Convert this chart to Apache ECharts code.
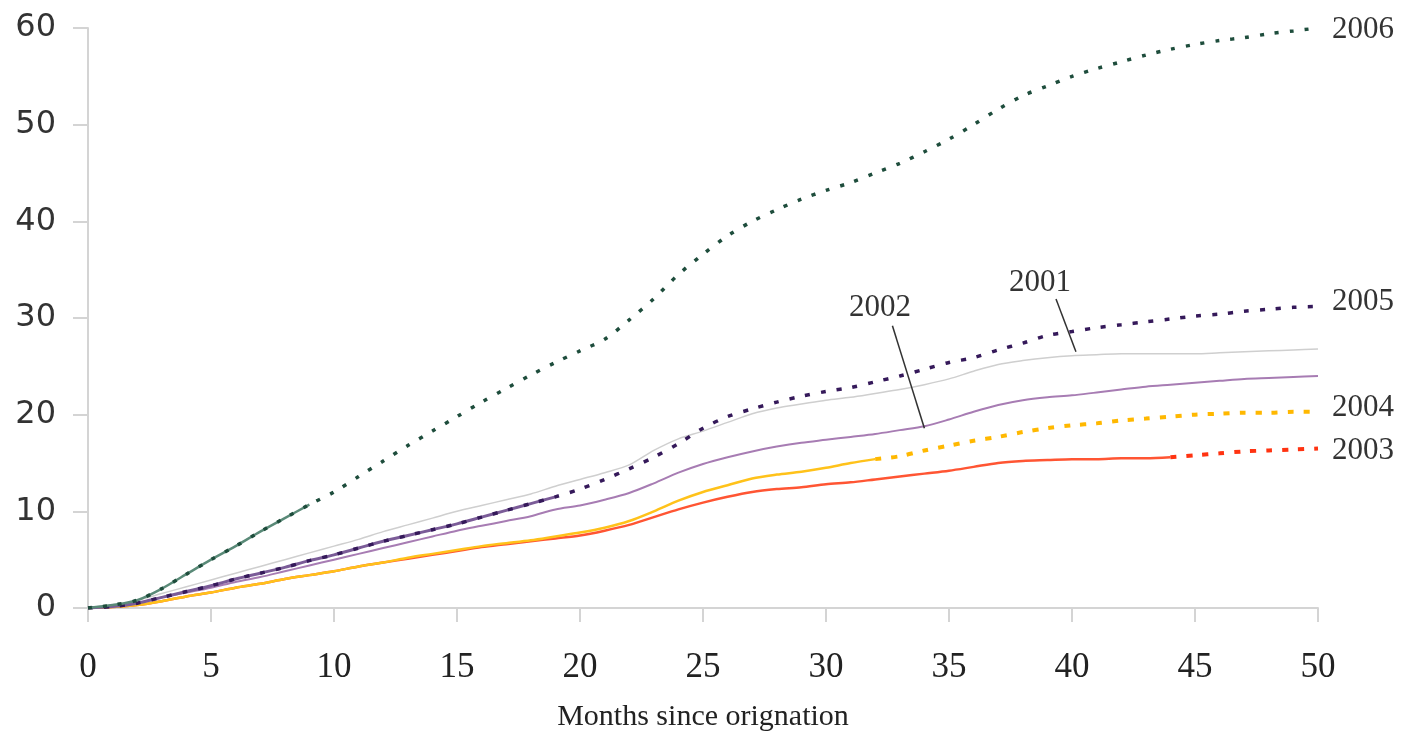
<!DOCTYPE html>
<html>
<head>
<meta charset="utf-8">
<script src="https://cdn.jsdelivr.net/npm/echarts@6/dist/echarts.min.js"></script>
<style>html,body{margin:0;padding:0;background:#fff}#c{width:1408px;height:746px}</style>
</head>
<body>
<div id="c"></div>
<script>
// Months since origination
const months = [0,1,2,3,4,5,6,7,8,9,10,11,12,13,14,15,16,17,18,19,20,21,22,23,24,25,26,27,28,29,30,31,32,33,34,35,36,37,38,39,40,41,42,43,44,45,46,47,48,49,50];
const v2001 = [0,0.2,0.8,1.5,2.2,2.9,3.6,4.3,5.0,5.7,6.4,7.1,7.9,8.6,9.3,10.0,10.6,11.2,11.8,12.6,13.3,14.0,14.8,16.3,17.5,18.3,19.2,20.1,20.7,21.1,21.5,21.8,22.2,22.6,23.1,23.7,24.5,25.2,25.6,25.9,26.1,26.2,26.3,26.3,26.3,26.3,26.4,26.5,26.6,26.7,26.8];
const v2002 = [0,0.1,0.5,1.1,1.6,2.1,2.7,3.2,3.8,4.4,5.0,5.6,6.2,6.8,7.4,8.0,8.5,9.0,9.5,10.2,10.6,11.2,11.9,12.9,14.0,14.9,15.6,16.2,16.7,17.1,17.4,17.7,18.0,18.4,18.8,19.5,20.3,21.0,21.5,21.8,22.0,22.3,22.6,22.9,23.1,23.3,23.5,23.7,23.8,23.9,24.0];
const v2003 = [0,0.1,0.3,0.7,1.2,1.6,2.1,2.5,3.0,3.4,3.8,4.3,4.7,5.1,5.5,5.9,6.3,6.6,6.9,7.2,7.5,8.0,8.6,9.4,10.2,10.9,11.5,12.0,12.3,12.5,12.8,13.0,13.3,13.6,13.9,14.2,14.6,15.0,15.2,15.3,15.4,15.4,15.5,15.5,15.6,15.8,16.0,16.2,16.3,16.4,16.5];
const v2004 = [0,0.1,0.3,0.7,1.2,1.6,2.1,2.5,3.0,3.4,3.8,4.3,4.7,5.2,5.6,6.0,6.4,6.7,7.0,7.4,7.8,8.3,9.0,10.0,11.1,12.0,12.7,13.4,13.8,14.1,14.5,15.0,15.4,15.7,16.3,16.8,17.3,17.7,18.2,18.6,18.9,19.1,19.4,19.6,19.8,20.0,20.1,20.2,20.2,20.3,20.3];
const v2005 = [0,0.15,0.5,1.1,1.7,2.3,3.0,3.6,4.2,4.9,5.5,6.2,6.9,7.5,8.1,8.7,9.4,10.1,10.8,11.5,12.3,13.3,14.4,15.6,17.0,18.6,19.8,20.6,21.3,21.9,22.4,22.8,23.4,24.0,24.7,25.4,25.9,26.7,27.4,28.2,28.6,29.0,29.3,29.6,29.9,30.2,30.4,30.7,30.9,31.1,31.2];
const v2006 = [0,0.3,0.8,2.0,3.5,5.0,6.4,7.9,9.3,10.7,12.0,13.6,15.2,16.8,18.3,19.8,21.3,22.7,24.1,25.4,26.6,27.8,29.8,32.0,34.5,36.6,38.5,40.0,41.2,42.3,43.2,44.0,45.0,46.0,47.2,48.5,50.0,51.6,53.0,54.0,55.0,55.8,56.5,57.2,57.8,58.3,58.7,59.0,59.4,59.7,60.0];
// last observed month for each cohort (projection afterwards)
const observedUntil = {2003: 44, 2004: 32, 2005: 19, 2006: 9};
const xTicks = [0,5,10,15,20,25,30,35,40,45,50];
const yTicks = [0,10,20,30,40,50,60];
const axisTitle = 'Months since orignation';

const pts = (vals, from, to) => months.map((m, i) => [m, vals[i]]).filter(p => p[0] >= from && p[0] <= to);

const serif = '"Liberation Serif", "DejaVu Serif", serif';
const endLbl = (txt, dy) => ({
  show: true, formatter: txt, color: '#333', fontFamily: serif, fontSize: 31, distance: 14, offset: [0, dy]
});

const chart = echarts.init(document.getElementById('c'), null, {renderer: 'canvas'});
chart.setOption({
  animation: false,
  backgroundColor: '#fff',
  grid: {left: 88, right: 90, top: 28, bottom: 138, containLabel: false},
  xAxis: {
    type: 'value', min: 0, max: 50, interval: 5,
    name: axisTitle, nameLocation: 'middle', nameGap: 94,
    nameTextStyle: {fontFamily: serif, fontSize: 30, color: '#222'},
    axisLine: {show: true, lineStyle: {color: '#d4d4d4', width: 2}},
    axisTick: {show: true, length: 14, lineStyle: {color: '#d4d4d4', width: 2}},
    splitLine: {show: false},
    axisLabel: {fontFamily: serif, fontSize: 35, color: '#222', margin: 42,
      formatter: v => xTicks.includes(v) ? String(v) : ''}
  },
  yAxis: {
    type: 'value', min: 0, max: 60, interval: 10,
    axisLine: {show: true, lineStyle: {color: '#d4d4d4', width: 2}},
    axisTick: {show: true, length: 15, lineStyle: {color: '#d4d4d4', width: 2}},
    splitLine: {show: false},
    axisLabel: {fontFamily: '"DejaVu Sans", Verdana, sans-serif', fontSize: 32, color: '#333', margin: 32,
      formatter: v => yTicks.includes(v) ? String(v) : ''}
  },
  series: [
    {name: '2001', type: 'line', data: pts(v2001, 0, 50), showSymbol: false, smooth: 0.3,
      lineStyle: {color: '#cfcfcf', width: 1.5},
      markLine: {symbol: 'none', silent: true, lineStyle: {color: '#333', width: 1.5, type: 'solid'},
        label: {show: false},
        data: [[{coord: [39.35, 31.96]}, {coord: [40.16, 26.5]}]]},
      markPoint: {symbol: 'circle', symbolSize: 1, itemStyle: {color: 'transparent'},
        label: {show: true, formatter: '2001', color: '#333', fontFamily: serif, fontSize: 31, position: 'inside'},
        data: [{coord: [38.7, 33.6]}]}
    },
    {name: '2002', type: 'line', data: pts(v2002, 0, 50), showSymbol: false, smooth: 0.3,
      lineStyle: {color: '#a77cb3', width: 2},
      markLine: {symbol: 'none', silent: true, lineStyle: {color: '#333', width: 1.5, type: 'solid'},
        label: {show: false},
        data: [[{coord: [32.7, 29.2]}, {coord: [34.0, 18.6]}]]},
      markPoint: {symbol: 'circle', symbolSize: 1, itemStyle: {color: 'transparent'},
        label: {show: true, formatter: '2002', color: '#333', fontFamily: serif, fontSize: 31, position: 'inside'},
        data: [{coord: [32.2, 31.0]}]}
    },
    {name: '2003 observed', type: 'line', data: pts(v2003, 0, observedUntil[2003]), showSymbol: false, smooth: 0.3,
      lineStyle: {color: '#ff5533', width: 2.5}},
    {name: '2003', type: 'line', data: pts(v2003, observedUntil[2003], 50), showSymbol: false, smooth: 0.3,
      lineStyle: {color: '#ff3311', width: 4, type: [6, 10]}, endLabel: endLbl('2003', 2)},
    {name: '2004 observed', type: 'line', data: pts(v2004, 0, observedUntil[2004]), showSymbol: false, smooth: 0.3,
      lineStyle: {color: '#ffc21a', width: 2.5}},
    {name: '2004', type: 'line', data: pts(v2004, observedUntil[2004], 50), showSymbol: false, smooth: 0.3,
      lineStyle: {color: '#ffb800', width: 4, type: [6, 10]}, endLabel: endLbl('2004', -4)},
    {name: '2005 observed', type: 'line', data: pts(v2005, 0, observedUntil[2005]), showSymbol: false, smooth: 0.3,
      lineStyle: {color: '#7b5c98', width: 3}},
    {name: '2005', type: 'line', data: pts(v2005, 0, 50), showSymbol: false, smooth: 0.3,
      lineStyle: {color: '#35195a', width: 3.5, type: [5, 11]}, endLabel: endLbl('2005', -5)},
    {name: '2006 observed', type: 'line', data: pts(v2006, 0, observedUntil[2006]), showSymbol: false, smooth: 0.3,
      lineStyle: {color: '#5a8a78', width: 2.5}},
    {name: '2006', type: 'line', data: pts(v2006, 0, 50), showSymbol: false, smooth: 0.3,
      lineStyle: {color: '#1e4d3c', width: 3.5, type: [4, 11]}, endLabel: endLbl('2006', 2)}
  ]
});
</script>
</body>
</html>
